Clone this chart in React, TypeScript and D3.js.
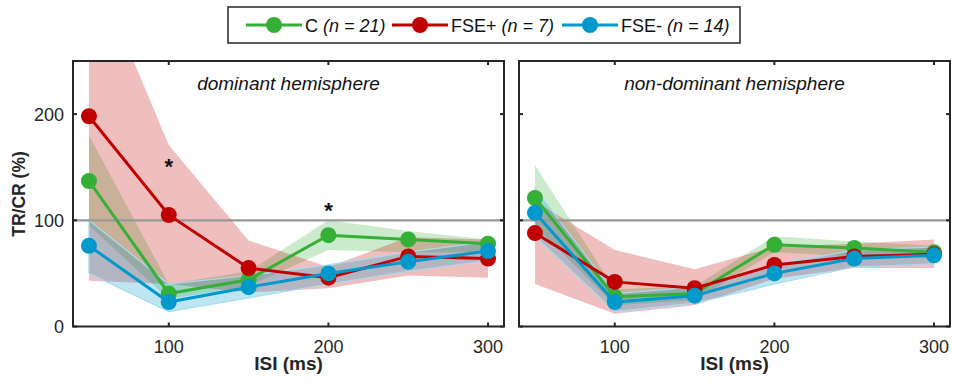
import React from "react";
import * as d3 from "d3";

// ISI values (ms)
const isi = [50, 100, 150, 200, 250, 300];
const xTicks = [100, 200, 300];
const yTicks = [0, 100, 200];

// Dominant hemisphere: group means and band limits (TR/CR %)
const domC = [137, 31, 44, 86, 82, 78];
const domCLo = [95, 26, 38, 72, 70, 70];
const domCHi = [180, 40, 52, 100, 90, 82];
const domFp = [198, 105, 55, 46, 66, 64];
const domFpLo = [43, 40, 32, 36, 48, 46];
const domFpHi = [350, 171, 81, 56, 84, 82];
const domFm = [76, 23, 37, 50, 61, 71];
const domFmLo = [50, 14, 27, 40, 52, 62];
const domFmHi = [100, 40, 48, 58, 70, 80];

// Non-dominant hemisphere
const ndC = [121, 28, 31, 77, 74, 70];
const ndCLo = [95, 20, 25, 70, 66, 64];
const ndCHi = [152, 35, 38, 85, 80, 76];
const ndFp = [88, 42, 36, 58, 66, 68];
const ndFpLo = [40, 12, 20, 45, 55, 55];
const ndFpHi = [118, 72, 54, 75, 78, 82];
const ndFm = [107, 23, 29, 50, 64, 67];
const ndFmLo = [85, 14, 22, 40, 56, 59];
const ndFmHi = [130, 31, 37, 58, 72, 75];

// Significance markers (ISI, y value)
const domStars = [
  { x: 100, y: 155 },
  { x: 200, y: 113 },
];

const groupNames = ["C", "FSE+", "FSE-"];
const groupN = ["21", "7", "14"];
const colors = ["#33b035", "#c00000", "#0099cc"];
const bandEdge = ["none", "none", "#a8dcef"];

const FONT = "Liberation Sans, Arial, sans-serif";
const INK = "#262626";

type Series = { mean: number[]; lo: number[]; hi: number[] };

function Panel({
  id,
  left,
  right,
  title,
  series,
  showYLabels,
  stars,
}: {
  id: string;
  left: number;
  right: number;
  title: string;
  series: Series[];
  showYLabels: boolean;
  stars: { x: number; y: number }[];
}) {
  const top = 61;
  const bottom = 326.5;
  const x = d3.scaleLinear().domain([40, 310]).range([left, right]);
  const y = d3.scaleLinear().domain([0, 250]).range([bottom, top]);

  const line = d3
    .line<number>()
    .x((_, i) => x(isi[i]))
    .y((d) => y(d));

  const band = (lo: number[], hi: number[]) => {
    const a = d3
      .area<number>()
      .x((_, i) => x(isi[i]))
      .y0((_, i) => y(lo[i]))
      .y1((_, i) => y(hi[i]));
    return a(hi) || "";
  };

  const tickLen = 4;

  return (
    <g>
      <defs>
        <clipPath id={`clip-${id}`}>
          <rect x={left} y={top} width={right - left} height={bottom - top} />
        </clipPath>
      </defs>
      <g clipPath={`url(#clip-${id})`}>
        {series.map((s, k) => (
          <path
            key={`band-${k}`}
            d={band(s.lo, s.hi)}
            fill={colors[k]}
            fillOpacity={0.25}
            stroke={bandEdge[k]}
            strokeWidth={1.2}
          />
        ))}
        <line
          x1={left}
          x2={right}
          y1={y(100)}
          y2={y(100)}
          stroke="#999999"
          strokeWidth={2.2}
        />
        {series.map((s, k) => (
          <g key={`ser-${k}`}>
            <path
              d={line(s.mean) || ""}
              fill="none"
              stroke={colors[k]}
              strokeWidth={3}
            />
            {s.mean.map((v, i) => (
              <circle
                key={i}
                cx={x(isi[i])}
                cy={y(v)}
                r={8}
                fill={colors[k]}
              />
            ))}
          </g>
        ))}
      </g>
      {/* frame */}
      <rect
        x={left}
        y={top}
        width={right - left}
        height={bottom - top}
        fill="none"
        stroke={INK}
        strokeWidth={2}
      />
      {xTicks.map((t) => (
        <g key={`xt-${t}`}>
          <line x1={x(t)} x2={x(t)} y1={bottom} y2={bottom - tickLen} stroke={INK} strokeWidth={2} />
          <line x1={x(t)} x2={x(t)} y1={top} y2={top + tickLen} stroke={INK} strokeWidth={2} />
          <text
            x={x(t)}
            y={353}
            textAnchor="middle"
            fontFamily={FONT}
            fontSize={18}
            fill={INK}
          >
            {t}
          </text>
        </g>
      ))}
      {yTicks.map((t) => (
        <g key={`yt-${t}`}>
          <line x1={left} x2={left + tickLen} y1={y(t)} y2={y(t)} stroke={INK} strokeWidth={2} />
          <line x1={right} x2={right - tickLen} y1={y(t)} y2={y(t)} stroke={INK} strokeWidth={2} />
          {showYLabels && (
            <text
              x={left - 9}
              y={y(t) + 6.5}
              textAnchor="end"
              fontFamily={FONT}
              fontSize={18}
              fill={INK}
            >
              {t}
            </text>
          )}
        </g>
      ))}
      <text
        x={(left + right) / 2}
        y={90}
        textAnchor="middle"
        fontFamily={FONT}
        fontSize={19}
        fontStyle="italic"
        fill="#111"
      >
        {title}
      </text>
      {stars.map((s, i) => (
        <text
          key={`star-${i}`}
          x={x(s.x)}
          y={y(s.y) + 12}
          textAnchor="middle"
          fontFamily={FONT}
          fontSize={22}
          fontWeight="bold"
          fill="#111"
        >
          *
        </text>
      ))}
      <text
        x={(left + right) / 2}
        y={370}
        textAnchor="middle"
        fontFamily={FONT}
        fontSize={19}
        fontWeight="bold"
        fill={INK}
      >
        ISI (ms)
      </text>
    </g>
  );
}

function Legend() {
  const items = [
    { lineX: 246, textX: 305 },
    { lineX: 392, textX: 451 },
    { lineX: 562, textX: 621 },
  ];
  const cy = 25;
  return (
    <g>
      <rect x={228} y={7} width={512} height={36} fill="#fff" stroke={INK} strokeWidth={1.5} />
      {items.map((it, k) => (
        <g key={k}>
          <line
            x1={it.lineX}
            x2={it.lineX + 56}
            y1={cy}
            y2={cy}
            stroke={colors[k]}
            strokeWidth={3}
          />
          <circle cx={it.lineX + 28} cy={cy} r={8} fill={colors[k]} />
          <text x={it.textX} y={cy + 6.5} fontFamily={FONT} fontSize={18} fill="#111">
            {groupNames[k]}{" "}
            <tspan fontStyle="italic">
              (n = {groupN[k]})
            </tspan>
          </text>
        </g>
      ))}
    </g>
  );
}

export default function App() {
  const dom: Series[] = [
    { mean: domC, lo: domCLo, hi: domCHi },
    { mean: domFp, lo: domFpLo, hi: domFpHi },
    { mean: domFm, lo: domFmLo, hi: domFmHi },
  ];
  const nd: Series[] = [
    { mean: ndC, lo: ndCLo, hi: ndCHi },
    { mean: ndFp, lo: ndFpLo, hi: ndFpHi },
    { mean: ndFm, lo: ndFmLo, hi: ndFmHi },
  ];
  return (
    <svg
      width={953}
      height={383}
      style={{ position: "absolute", left: 0, top: 0, background: "#fff" }}
    >
      <rect width={953} height={383} fill="#fff" />
      <Panel
        id="dom"
        left={73}
        right={504}
        title="dominant hemisphere"
        series={dom}
        showYLabels={true}
        stars={domStars}
      />
      <Panel
        id="nd"
        left={519}
        right={950}
        title="non-dominant hemisphere"
        series={nd}
        showYLabels={false}
        stars={[]}
      />
      <text
        transform="translate(25,194) rotate(-90)"
        textAnchor="middle"
        fontFamily={FONT}
        fontSize={17.5}
        fontWeight="bold"
        fill={INK}
      >
        TR/CR (%)
      </text>
      <Legend />
    </svg>
  );
}
